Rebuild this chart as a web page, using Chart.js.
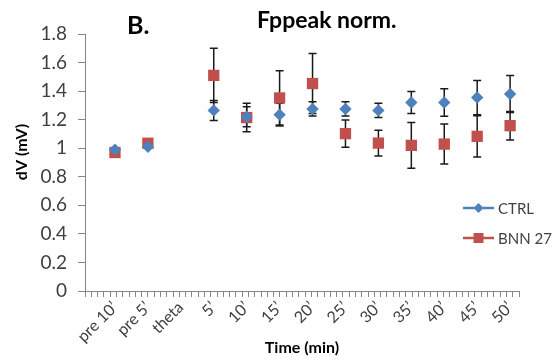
<!DOCTYPE html>
<html><head><meta charset="utf-8">
<script src="https://cdn.jsdelivr.net/npm/chart.js@4.4.1/dist/chart.umd.min.js"></script>
<style>html,body{margin:0;padding:0;background:#fff}canvas{display:block}</style>
</head><body>
<canvas id="c" width="556" height="361"></canvas>
<script>
const categories = ["pre 10’","pre 5’","theta","5’","10’","15’","20’","25’","30’","35’","40’","45’","50’"];
const ctrlMean = [0.99,1.01,null,1.265,1.22,1.235,1.275,1.275,1.265,1.32,1.32,1.355,1.38];
const ctrlErr  = [0,0,null,0.07,0.07,0.08,0.05,0.05,0.05,0.077,0.096,0.12,0.13];
const bnnMean  = [0.97,1.035,null,1.51,1.215,1.352,1.453,1.102,1.036,1.02,1.029,1.083,1.158];
const bnnErr   = [0,0,null,0.19,0.1,0.19,0.21,0.095,0.09,0.16,0.14,0.145,0.10];
const seriesNames = ["CTRL","BNN 27"];
const seriesColors = ["#4F81BD","#C0504D"];
const titleText = "Fppeak norm.";
const panelLabel = "B.";
const yTitle = "dV (mV)";
const xTitle = "Time (min)";

const FONT = "Lato, 'Open Sans', sans-serif";
const X_MIN = -0.91, X_MAX = 12.27, MINOR_N = 69;

const errorBars = {
  id: 'errorBars',
  beforeDatasetsDraw(chart) {
    const ctx = chart.ctx, xs = chart.scales.x, ys = chart.scales.y;
    const sets = [[ctrlMean, ctrlErr],[bnnMean, bnnErr]];
    ctx.save();
    ctx.strokeStyle = '#1a1a1a';
    ctx.lineWidth = 1.5;
    sets.forEach(([m, e]) => {
      m.forEach((v, i) => {
        if (v == null || !e[i]) return;
        const x = xs.getPixelForValue(i);
        const yt = ys.getPixelForValue(v + e[i]);
        const yb = ys.getPixelForValue(v - e[i]);
        ctx.beginPath();
        ctx.moveTo(x, yt); ctx.lineTo(x, yb);
        ctx.moveTo(x - 4, yt); ctx.lineTo(x + 4, yt);
        ctx.moveTo(x - 4, yb); ctx.lineTo(x + 4, yb);
        ctx.stroke();
      });
    });
    ctx.restore();
  }
};

const texts = {
  id: 'texts',
  afterDraw(chart) {
    const ctx = chart.ctx;
    ctx.save();
    ctx.fillStyle = '#000';
    ctx.textBaseline = 'alphabetic';
    ctx.textAlign = 'left';
    ctx.font = "bold 25px " + FONT;
    ctx.fillText(panelLabel, 127, 34);
    ctx.font = "bold 23px " + FONT;
    ctx.fillText(titleText, 257, 28);
    ctx.save();
    ctx.translate(22, 152);
    ctx.rotate(-Math.PI / 2);
    ctx.textAlign = 'center';
    ctx.textBaseline = 'middle';
    ctx.font = "bold 16px " + FONT;
    ctx.fillText(yTitle, 0, 0);
    ctx.restore();
    const ca = chart.chartArea;
    const lx1 = ca.right - 56, lx2 = ca.right - 25, tx = ca.right - 21;
    const rows = [208, 238];
    ctx.font = "15px " + FONT;
    ctx.textBaseline = 'middle';
    rows.forEach((y, k) => {
      ctx.strokeStyle = seriesColors[k];
      ctx.lineWidth = 2.5;
      ctx.beginPath(); ctx.moveTo(lx1, y); ctx.lineTo(lx2, y); ctx.stroke();
      ctx.fillStyle = seriesColors[k];
      const cx = (lx1 + lx2) / 2;
      ctx.beginPath();
      if (k === 0) {
        ctx.moveTo(cx - 5, y); ctx.lineTo(cx, y - 5); ctx.lineTo(cx + 5, y); ctx.lineTo(cx, y + 5);
      } else {
        ctx.rect(cx - 5, y - 5, 10, 10);
      }
      ctx.closePath(); ctx.fill();
      ctx.fillStyle = '#404040';
      ctx.fillText(seriesNames[k], tx, y + 1);
    });
    ctx.restore();
  }
};

new Chart(document.getElementById('c'), {
  type: 'scatter',
  data: {
    datasets: [
      { label: seriesNames[0], data: ctrlMean.map((v,i)=>({x:i,y:v})),
        pointStyle: 'rectRot', radius: 6.2, backgroundColor: seriesColors[0], borderColor: seriesColors[0], borderWidth: 0, showLine: false },
      { label: seriesNames[1], data: bnnMean.map((v,i)=>({x:i,y:v})),
        pointStyle: 'rect', radius: 8, backgroundColor: seriesColors[1], borderColor: seriesColors[1], borderWidth: 0, showLine: false }
    ]
  },
  options: {
    responsive: false,
    animation: false,
    events: [],
    layout: { padding: { top: 34, right: 37, left: 0, bottom: 0 } },
    plugins: { legend: { display: false }, tooltip: { enabled: false } },
    scales: {
      x: {
        type: 'linear', min: X_MIN, max: X_MAX,
        afterBuildTicks(scale) {
          const t = [];
          for (let k = 0; k <= MINOR_N; k++) t.push({ value: X_MIN + k * (X_MAX - X_MIN) / MINOR_N });
          categories.forEach((c, i) => t.push({ value: i, lbl: true }));
          t.sort((a, b) => a.value - b.value);
          scale.ticks = t;
        },
        afterFit(scale) { scale.height = 70; },
        ticks: {
          autoSkip: false, maxRotation: 45, minRotation: 45, padding: 1,
          color: '#404040', font: { family: FONT, size: 16 },
          callback(value, index, ticks) { return ticks[index].lbl ? categories[Math.round(value)] : ''; }
        },
        grid: {
          drawOnChartArea: false, drawTicks: true, tickLength: 6,
          tickColor: (ctx) => (ctx.tick && ctx.tick.lbl) ? 'rgba(0,0,0,0)' : '#868686',
          lineWidth: 1
        },
        border: { display: true, color: '#868686', width: 1 },
        title: { display: true, text: xTitle, color: '#000', font: { family: FONT, size: 16, weight: 'bold' }, padding: { top: 0, bottom: 4 } }
      },
      y: {
        min: 0, max: 1.8,
        afterFit(scale) { scale.width = 85; },
        ticks: { stepSize: 0.2, padding: 11, color: '#404040', font: { family: FONT, size: 19 },
          callback: (v) => String(+v.toFixed(1)) },
        grid: { drawOnChartArea: false, drawTicks: true, tickLength: 7, tickColor: '#868686' },
        border: { display: true, color: '#868686', width: 1 }
      }
    }
  },
  plugins: [errorBars, texts]
});
</script>
</body></html>
